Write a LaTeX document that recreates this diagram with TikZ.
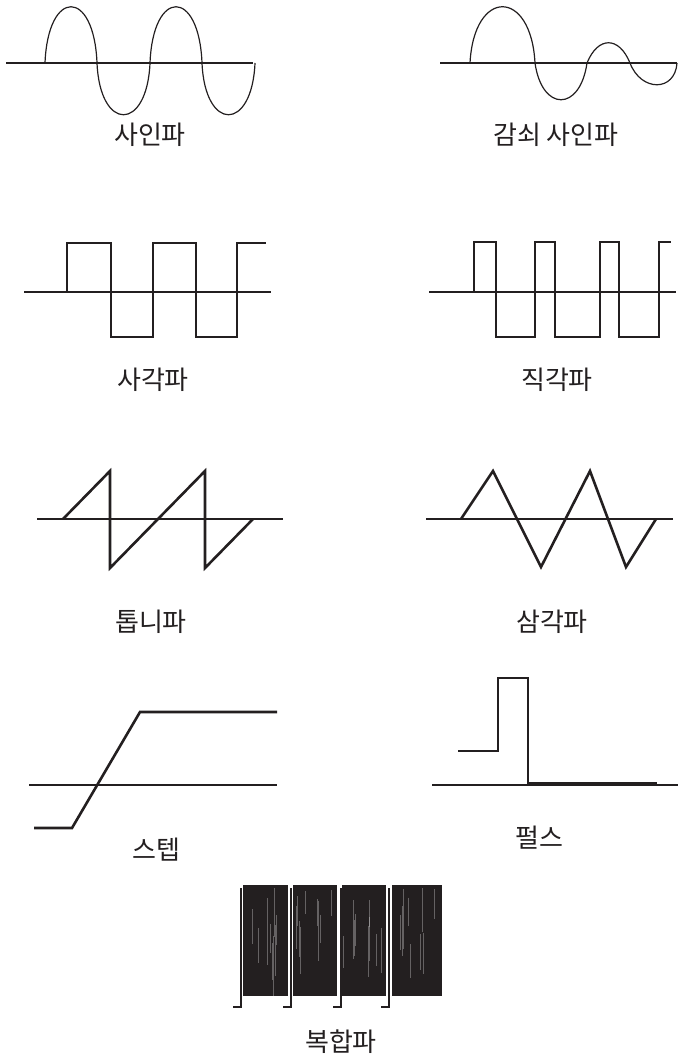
\documentclass[tikz,border=0pt]{standalone}
\usepackage{fontspec}
\setmainfont{Noto Sans CJK KR}
\usepackage{tikz}
\usetikzlibrary{positioning, calc}
\usepackage{xcolor}
\definecolor{ink}{HTML}{231F20}

\begin{document}
\begin{tikzpicture}[x=1pt, y=-1pt,
    axis/.style={ink, line width=1.2pt},
    thinwave/.style={ink, line width=1.2pt},
    wave/.style={ink, line width=2.6pt, line join=miter},
    caption/.style={ink, font=\fontsize{26}{30}\selectfont, inner sep=0pt}]
    \useasboundingbox (0,0) rectangle (678,1057);

    % Sine wave
    \draw[axis] (6,63) -- (253,63);
    \draw[thinwave] (45,63) .. controls (48,-12) and (94,-12) .. (97,63)
        .. controls (100,132) and (147,132) .. (150,63)
        .. controls (153,-12) and (199,-12) .. (202,63)
        .. controls (205,132) and (252,132) .. (255,63);
    \node[caption] (sine) at (150,135) {사인파};

    % Damped sine wave
    \draw[axis] (440,63) -- (677,63);
    \draw[thinwave] (470,63) .. controls (474,-12) and (531,-12) .. (535,63)
        .. controls (542,112) and (580,112) .. (587,63)
        .. controls (598,36) and (619,36) .. (630,63)
        .. controls (641,92) and (675,92) .. (677,63);
    \node[caption] (damped) at (556,135) {감쇠 사인파};

    % Square wave
    \draw[axis] (24,292) -- (271,292);
    \draw[wave] (67,292) -- (67,243) -- (111,243) -- (111,337) -- (153,337)
        -- (153,243) -- (196,243) -- (196,337) -- (237,337) -- (237,243) -- (266,243);
    \node[caption] (square) at (153,380) {사각파};

    % Rectangular wave
    \draw[axis] (429,292) -- (676,292);
    \draw[wave] (474,292) -- (474,242) -- (496,242) -- (496,337) -- (535,337)
        -- (535,242) -- (555,242) -- (555,337) -- (600,337) -- (600,242)
        -- (619,242) -- (619,337) -- (659,337) -- (659,242) -- (671,242);
    \node[caption] (rect) at (557,380) {직각파};

    % Sawtooth wave
    \draw[axis] (37,519) -- (283,519);
    \draw[wave] (63,519) -- (110,471) -- (110,568) -- (205,471) -- (205,568) -- (253,519);
    \node[caption] (saw) at (151,622) {톱니파};

    % Triangle wave
    \draw[axis] (426,519) -- (673,519);
    \draw[wave] (461,519) -- (493,471) -- (541,567) -- (590,471) -- (626,567) -- (656,519);
    \node[caption] (tri) at (552,622) {삼각파};

    % Step
    \draw[axis] (29,785) -- (277,785);
    \draw[wave] (34,828) -- (72,828) -- (140,712) -- (277,712);
    \node[caption] (step) at (156,850) {스텝};

    % Pulse
    \draw[axis] (432,785) -- (678,785);
    \draw[wave] (458,751) -- (498,751) -- (498,678) -- (528,678) -- (528,783) -- (657,783);
    \node[caption] (pulse) at (539,838) {펄스};

    % Composite wave
    \pgfmathsetseed{11}
    \foreach \bx/\bw/\hx in {243/45/233, 293/44/283, 342/44/333, 392/50/381} {
        \fill[ink] (\bx,885) rectangle ({\bx+\bw},996);
        \foreach \i in {1,...,9} {
            \pgfmathsetmacro\sx{\bx+1+rnd*(\bw-2)}
            \pgfmathsetmacro\sa{886+rnd*60}
            \pgfmathsetmacro\sb{\sa+20+rnd*50}
            \draw[white, line width=0.4pt, opacity=0.3] (\sx,\sa) -- (\sx,\sb);
        }
        \draw[thinwave] (\hx,1007) -- ({\hx+8},1007) -- ({\hx+8},888);
    }
    \node[caption] (composite) at (341,1042) {복합파};

\end{tikzpicture}
\end{document}
